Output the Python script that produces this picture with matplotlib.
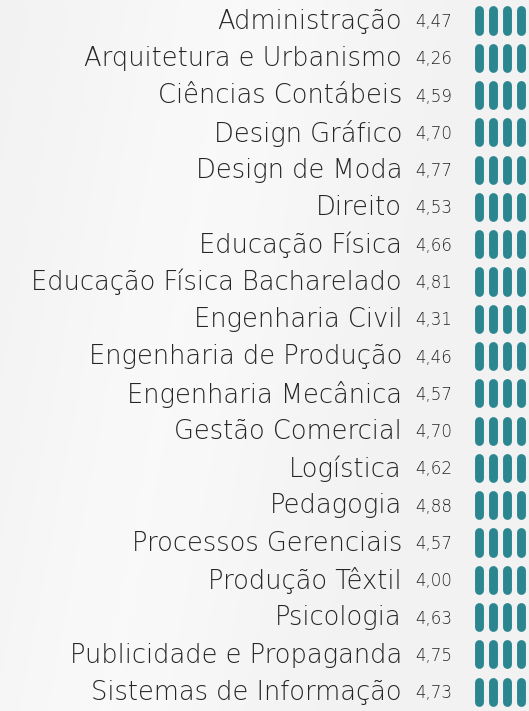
import matplotlib
matplotlib.use("Agg")
import matplotlib.pyplot as plt
import numpy as np

cursos = [
    "Administração",
    "Arquitetura e Urbanismo",
    "Ciências Contábeis",
    "Design Gráfico",
    "Design de Moda",
    "Direito",
    "Educação Física",
    "Educação Física Bacharelado",
    "Engenharia Civil",
    "Engenharia de Produção",
    "Engenharia Mecânica",
    "Gestão Comercial",
    "Logística",
    "Pedagogia",
    "Processos Gerenciais",
    "Produção Têxtil",
    "Psicologia",
    "Publicidade e Propaganda",
    "Sistemas de Informação",
]
notas = [4.47, 4.26, 4.59, 4.70, 4.77, 4.53, 4.66, 4.81, 4.31, 4.46,
         4.57, 4.70, 4.62, 4.88, 4.57, 4.00, 4.63, 4.75, 4.73]

cor_pill = "#2b8690"
cor_texto = "#252525"

fig = plt.figure(figsize=(5.29, 7.11), dpi=100)
fig.patch.set_facecolor("#f4f4f4")
ax = fig.add_axes([0, 0, 1, 1])
ax.set_xlim(0, 529)
ax.set_ylim(18.52, -0.55)
ax.axis("off")

# fundo cinza claro com leve brilho no meio
gx = np.linspace(0, 1, 200)
gy = np.linspace(0, 1, 260)
X, Y = np.meshgrid(gx, gy)
brilho = np.exp(-((X - 0.45 + 0.25 * Y) ** 2) / 0.08)
ax.imshow(brilho, cmap=matplotlib.colors.LinearSegmentedColormap.from_list(
    "bg", ["#f2f2f2", "#f9f9f9"]), extent=(0, 529, 18.52, -0.55),
    aspect="auto", zorder=0)

for i, (nome, nota) in enumerate(zip(cursos, notas)):
    ax.text(402, i + 0.02, nome, ha="right", va="center", fontsize=18.5,
            color=cor_texto, family="DejaVu Sans", weight="light")
    ax.text(415, i + 0.04, f"{nota:.2f}".replace(".", ","), ha="left",
            va="center", fontsize=12, color=cor_texto, family="DejaVu Sans",
            weight="light")
    # uma pílula por ponto inteiro da nota
    for k in range(int(nota)):
        x = 479 + k * 14
        ax.plot([x, x], [i - 0.27, i + 0.27], color=cor_pill, lw=6.4,
                solid_capstyle="round", zorder=2)

fig.savefig("out.png", dpi=100, facecolor=fig.get_facecolor())
